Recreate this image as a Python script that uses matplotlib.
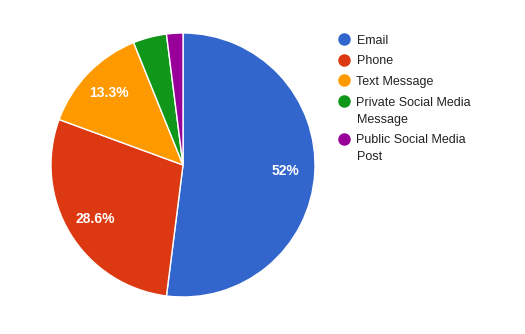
import textwrap
import matplotlib
matplotlib.use("Agg")
import matplotlib.pyplot as plt

# Contact channel shares (%)
categories = ["Email", "Phone", "Text Message",
              "Private Social Media Message", "Public Social Media Post"]
shares = [52.0, 28.6, 13.3, 4.1, 2.0]
colors = ["#3366cc", "#dc3912", "#ff9900", "#109618", "#990099"]

plt.rcParams["font.family"] = ["Liberation Sans", "DejaVu Sans"]

W, H = 525, 334
fig = plt.figure(figsize=(W / 100, H / 100), dpi=100)
fig.patch.set_facecolor("white")

# Pie area
ax = fig.add_axes([51 / W, 37 / H, 264 / W, 264 / H])


def pct_label(p):
    return f"{p:g}%" if p >= 5 else ""


wedges, _, autotexts = ax.pie(
    shares, colors=colors, startangle=90, counterclock=False, radius=1.0,
    autopct=lambda p: pct_label(round(p, 1)), pctdistance=0.78,
    wedgeprops=dict(edgecolor="white", linewidth=1.0),
    textprops=dict(color="white", fontsize=10, fontweight="bold"),
)
ax.set_xlim(-1, 1)
ax.set_ylim(-1, 1)
ax.set_aspect("equal")
ax.axis("off")

# Legend drawn on an overlay in pixel coordinates
lg = fig.add_axes([0, 0, 1, 1])
lg.set_xlim(0, W)
lg.set_ylim(H, 0)
lg.axis("off")

line_h = 17.0
entry_gap = 3.7
y = 39.0
for name, col in zip(categories, colors):
    lines = textwrap.wrap(name, width=20)
    lg.plot([344], [y], marker="o", markersize=9, color=col,
            markeredgewidth=0, linestyle="none")
    for k, ln in enumerate(lines):
        lg.text(356.5, y + k * line_h, ln, fontsize=9, color="#222222",
                va="center_baseline", ha="left")
    y += len(lines) * line_h + entry_gap

fig.savefig("out.png", dpi=100, facecolor="white")
